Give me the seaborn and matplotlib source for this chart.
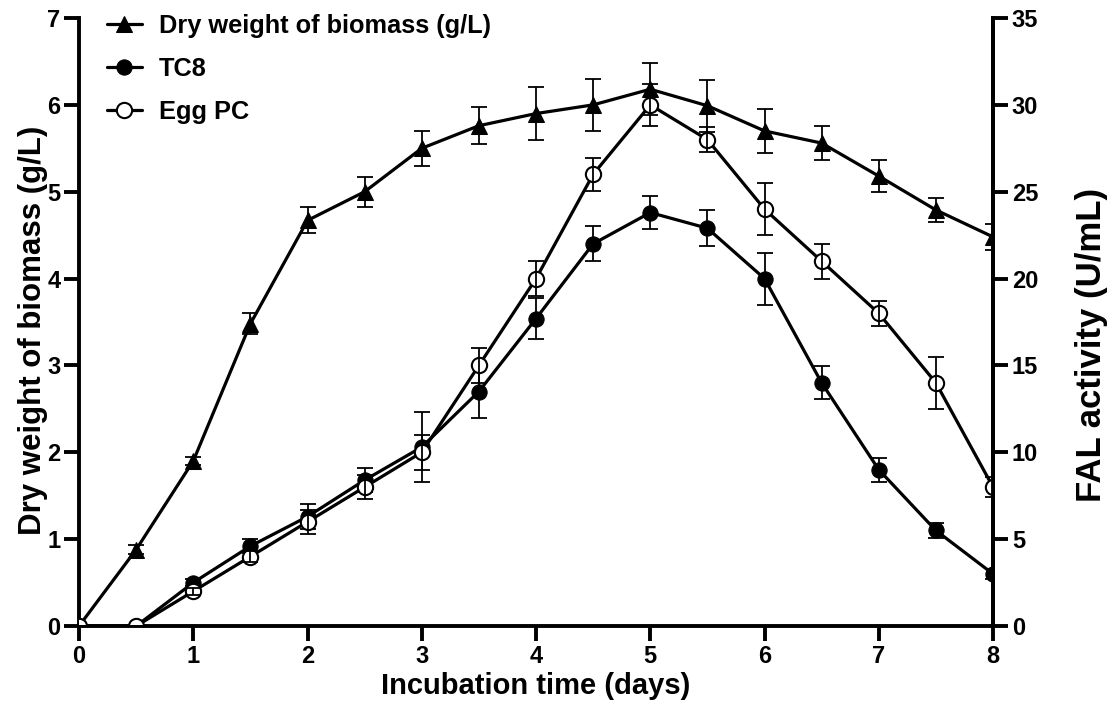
import numpy as np
import pandas as pd
import matplotlib
matplotlib.use("Agg")
import matplotlib.pyplot as plt
import seaborn as sns

# data
days = [0, 0.5, 1, 1.5, 2, 2.5, 3, 3.5, 4, 4.5, 5, 5.5, 6, 6.5, 7, 7.5, 8]

biomass = [0, 0.88, 1.9, 3.48, 4.67, 5.0, 5.5, 5.76, 5.9, 6.0, 6.18, 5.99, 5.7, 5.56, 5.18, 4.79, 4.48]
biomass_sd = [0, 0.05, 0.05, 0.12, 0.15, 0.17, 0.2, 0.21, 0.3, 0.3, 0.3, 0.3, 0.25, 0.2, 0.18, 0.14, 0.15]

tc8 = [0, 0, 2.5, 4.6, 6.3, 8.4, 10.3, 13.5, 17.7, 22.0, 23.8, 22.9, 20.0, 14.0, 9.0, 5.5, 3.0]
tc8_sd = [0, 0, 0.2, 0.4, 0.7, 0.7, 2.0, 1.5, 1.2, 1.0, 0.95, 1.05, 1.5, 0.95, 0.7, 0.45, 0.3]

egg_pc = [0, 0, 2.0, 4.0, 6.0, 8.0, 10.0, 15.0, 20.0, 26.0, 30.0, 28.0, 24.0, 21.0, 18.0, 14.0, 8.0]
egg_pc_sd = [0, 0, 0.2, 0.3, 0.7, 0.7, 1.0, 1.0, 1.0, 0.95, 1.2, 0.7, 1.5, 1.0, 0.7, 1.5, 0.6]

df = pd.DataFrame({"days": days, "biomass": biomass, "tc8": tc8, "egg_pc": egg_pc})

sns.set_theme(style="ticks")
plt.rcParams["font.family"] = ["Liberation Sans", "DejaVu Sans"]
plt.rcParams["font.weight"] = "bold"
plt.rcParams["axes.labelweight"] = "bold"
plt.rcParams["text.color"] = "black"
plt.rcParams["axes.labelcolor"] = "black"

fig = plt.figure(figsize=(11.16, 7.09), dpi=100)
ax = fig.add_axes([0.0708, 0.117, 0.819, 0.8576])
ax2 = ax.twinx()

lw = 2.3
ms = 11
bar_kw = dict(fmt="none", ecolor="black", elinewidth=1.3, capsize=6, capthick=1.3)

# left axis: biomass
sns.lineplot(data=df, x="days", y="biomass", ax=ax, color="black", lw=lw,
             marker="^", markersize=ms + 0.5, markeredgecolor="black", markerfacecolor="black",
             label="Dry weight of biomass (g/L)")
ax.errorbar(days, biomass, yerr=biomass_sd, **bar_kw)

# right axis: FAL activity
sns.lineplot(data=df, x="days", y="tc8", ax=ax2, color="black", lw=lw,
             marker="o", markersize=ms, markeredgecolor="black", markerfacecolor="black",
             label="TC8")
ax2.errorbar(days, tc8, yerr=tc8_sd, **bar_kw)
sns.lineplot(data=df, x="days", y="egg_pc", ax=ax2, color="black", lw=lw,
             marker="o", markersize=ms, markeredgecolor="black", markerfacecolor="white",
             markeredgewidth=1.5, label="Egg PC")
ax2.errorbar(days, egg_pc, yerr=egg_pc_sd, **bar_kw)

ax.set_xlim(0, 8)
ax.set_ylim(0, 7)
ax2.set_ylim(0, 35)
ax.set_xticks(range(0, 9))
ax.set_yticks(range(0, 8))
ax2.set_yticks(range(0, 36, 5))

ax.set_xlabel("Incubation time (days)", fontsize=21, fontweight="bold", labelpad=3)
ax.set_ylabel("Dry weight of biomass (g/L)", fontsize=22.5, fontweight="bold")
ax2.set_ylabel("FAL activity (U/mL)", fontsize=25, fontweight="bold")
ax.yaxis.set_label_coords(-0.034, 0.487)
ax2.yaxis.set_label_coords(1.09, 0.462)

for a in (ax, ax2):
    a.spines["top"].set_visible(False)
    for s in a.spines.values():
        s.set_linewidth(2.8)
        s.set_color("black")
    a.tick_params(width=2.8, length=10.5, labelsize=17, colors="black", pad=3)
    for lab in a.get_xticklabels() + a.get_yticklabels():
        lab.set_fontweight("bold")
ax2.spines["left"].set_visible(False)
ax2.spines["bottom"].set_visible(False)

# combined legend
h1, l1 = ax.get_legend_handles_labels()
h2, l2 = ax2.get_legend_handles_labels()
ax.get_legend().remove()
ax2.get_legend().remove()
ax2.legend(h1 + h2, l1 + l2, loc="upper left", bbox_to_anchor=(0.0053, 1.044), frameon=False,
           handlelength=1.38, handletextpad=0.67, labelspacing=0.75,
           prop={"weight": "bold", "size": 18.3})

fig.savefig("out.png", dpi=100)
